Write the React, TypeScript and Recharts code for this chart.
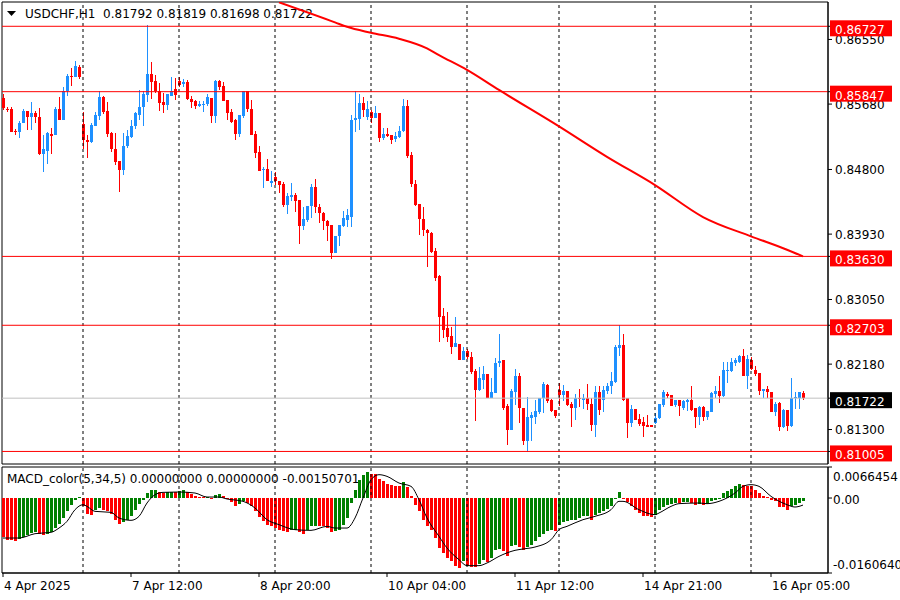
import React from "react";
import { ComposedChart, Bar, Line, XAxis, YAxis, ReferenceLine, ReferenceArea } from "recharts";

const FONT = "DejaVu Sans";
const BULL = "#1E90FF";
const BEAR = "#FF0000";
const HIST_UP = "#008000";
const HIST_DOWN = "#FF0000";

const symbol = "USDCHF,H1";
const macdTitle = "MACD_color(5,34,5) 0.00000000 0.00000000 -0.00150701";

// bar index axis (H1 bars)
const X_MIN = -0.25;
const X_MAX = 206.25;
const P_MIN = 0.80836;
const P_MAX = 0.87054;
const M_MIN = -0.016064;
const M_MAX = 0.0066454;

const daySeparators = [20, 44, 68, 92, 116, 139, 163, 187];
const timeTicks = [0, 32, 64, 96, 128, 160, 192];
const timeLabels = ["4 Apr 2025", "7 Apr 12:00", "8 Apr 20:00", "10 Apr 04:00", "11 Apr 12:00", "14 Apr 21:00", "16 Apr 05:00"];

const priceTicks = [0.8655, 0.8568, 0.848, 0.8393, 0.8305, 0.8218, 0.813];
const levels = [0.86727, 0.85847, 0.8363, 0.82703, 0.81005];
const lastPrice = 0.81722;

const macdTicks = [0.0066454, 0, -0.016064];
const macdTickLabels = ["0.0066454", "0.00", "-0.0160640"];

const open = [
  0.8576, 0.8562, 0.8561, 0.8532, 0.8531, 0.8543, 0.8559, 0.8551, 0.8556, 0.8551,
  0.8501, 0.8505, 0.8528, 0.8526, 0.8561, 0.8546, 0.8586, 0.8606, 0.8605, 0.8618,
  0.8541, 0.8520, 0.8517, 0.8539, 0.8552, 0.8578, 0.8559, 0.8529, 0.8508, 0.8491,
  0.8479, 0.8511, 0.8524, 0.8539, 0.8553, 0.8564, 0.8580, 0.8609, 0.8599, 0.8585,
  0.8571, 0.8567, 0.8579, 0.8588, 0.8599, 0.8595, 0.8598, 0.8575, 0.8572, 0.8566,
  0.8567, 0.8568, 0.8576, 0.8552, 0.8599, 0.8592, 0.8574, 0.8557, 0.8546, 0.8528,
  0.8552, 0.8585, 0.8562, 0.8528, 0.8503, 0.8479, 0.8481, 0.8462, 0.8470, 0.8464,
  0.8460, 0.8432, 0.8443, 0.8446, 0.8439, 0.8404, 0.8412, 0.8431, 0.8456, 0.8429,
  0.8422, 0.8411, 0.8405, 0.8367, 0.8390, 0.8404, 0.8412, 0.8416, 0.8546, 0.8548,
  0.8570, 0.8551, 0.8557, 0.8549, 0.8556, 0.8523, 0.8528, 0.8526, 0.8521, 0.8524,
  0.8532, 0.8566, 0.8500, 0.8461, 0.8434, 0.8414, 0.8399, 0.8394, 0.8370, 0.8336,
  0.8283, 0.8267, 0.8256, 0.8241, 0.8245, 0.8224, 0.8236, 0.8228, 0.8209, 0.8183,
  0.8197, 0.8205, 0.8172, 0.8179, 0.8219, 0.8223, 0.8161, 0.8129, 0.8181, 0.8202,
  0.8159, 0.8114, 0.8146, 0.8147, 0.8154, 0.8172, 0.8190, 0.8170, 0.8156, 0.8183,
  0.8176, 0.8182, 0.8164, 0.8159, 0.8173, 0.8170, 0.8173, 0.8165, 0.8136, 0.8181,
  0.8170, 0.8182, 0.8189, 0.8194, 0.8240, 0.8244, 0.8172, 0.8139, 0.8157, 0.8144,
  0.8140, 0.8136, 0.8136, 0.8139, 0.8145, 0.8163, 0.8178, 0.8176, 0.8163, 0.8170,
  0.8159, 0.8167, 0.8170, 0.8159, 0.8147, 0.8160, 0.8147, 0.8154, 0.8178, 0.8182,
  0.8175, 0.8209, 0.8209, 0.8220, 0.8221, 0.8229, 0.8202, 0.8223, 0.8210, 0.8206,
  0.8182, 0.8184, 0.8181, 0.8154, 0.8166, 0.8133, 0.8156, 0.8135, 0.8172, 0.8172,
  0.81792,
];

const high = [
  0.8582, 0.8564, 0.8564, 0.8534, 0.8545, 0.8561, 0.8559, 0.8571, 0.8559, 0.8563,
  0.8526, 0.8531, 0.8536, 0.8564, 0.8578, 0.8591, 0.8608, 0.8617, 0.8626, 0.8621,
  0.8557, 0.8526, 0.8542, 0.8557, 0.8586, 0.8579, 0.8571, 0.8530, 0.8529, 0.8491,
  0.8529, 0.8533, 0.8546, 0.8558, 0.8587, 0.8585, 0.8675, 0.8624, 0.8607, 0.8597,
  0.8583, 0.8582, 0.8605, 0.8603, 0.8605, 0.8602, 0.8601, 0.8579, 0.8573, 0.8572,
  0.8572, 0.8582, 0.8576, 0.8601, 0.8600, 0.8598, 0.8574, 0.8561, 0.8548, 0.8553,
  0.8585, 0.8585, 0.8574, 0.8532, 0.8511, 0.8484, 0.8494, 0.8478, 0.8476, 0.8464,
  0.8463, 0.8449, 0.8462, 0.8448, 0.8439, 0.8430, 0.8431, 0.8460, 0.8467, 0.8434,
  0.8423, 0.8412, 0.8405, 0.8390, 0.8405, 0.8424, 0.8427, 0.8553, 0.8585, 0.8581,
  0.8577, 0.8572, 0.8560, 0.8565, 0.8556, 0.8536, 0.8536, 0.8526, 0.8531, 0.8538,
  0.8575, 0.8574, 0.8504, 0.8466, 0.8434, 0.8429, 0.8400, 0.8396, 0.8374, 0.8338,
  0.8293, 0.8288, 0.8268, 0.8282, 0.8245, 0.8241, 0.8239, 0.8235, 0.8211, 0.8214,
  0.8215, 0.8205, 0.8199, 0.8226, 0.8258, 0.8224, 0.8165, 0.8184, 0.8212, 0.8206,
  0.8159, 0.8174, 0.8154, 0.8170, 0.8172, 0.8194, 0.8191, 0.8171, 0.8156, 0.8192,
  0.8190, 0.8182, 0.8167, 0.8178, 0.8185, 0.8178, 0.8191, 0.8173, 0.8188, 0.8188,
  0.8188, 0.8193, 0.8208, 0.8244, 0.8271, 0.8258, 0.8172, 0.8163, 0.8158, 0.8151,
  0.8147, 0.8150, 0.8136, 0.8152, 0.8165, 0.8183, 0.8181, 0.8176, 0.8170, 0.8170,
  0.8170, 0.8171, 0.8189, 0.8159, 0.8161, 0.8161, 0.8155, 0.8181, 0.8188, 0.8202,
  0.8221, 0.8221, 0.8226, 0.8226, 0.8230, 0.8239, 0.8230, 0.8227, 0.8215, 0.8206,
  0.8184, 0.8188, 0.8181, 0.8167, 0.8167, 0.8158, 0.8156, 0.8200, 0.8181, 0.8181,
  0.81819,
];

const low = [
  0.8560, 0.8557, 0.8530, 0.8526, 0.8523, 0.8542, 0.8533, 0.8533, 0.8542, 0.8499,
  0.8476, 0.8488, 0.8501, 0.8526, 0.8546, 0.8546, 0.8579, 0.8592, 0.8605, 0.8602,
  0.8508, 0.8496, 0.8515, 0.8538, 0.8547, 0.8554, 0.8524, 0.8504, 0.8486, 0.8450,
  0.8472, 0.8509, 0.8523, 0.8534, 0.8547, 0.8538, 0.8571, 0.8575, 0.8583, 0.8559,
  0.8556, 0.8560, 0.8579, 0.8573, 0.8591, 0.8591, 0.8573, 0.8563, 0.8562, 0.8564,
  0.8558, 0.8565, 0.8543, 0.8543, 0.8587, 0.8572, 0.8546, 0.8543, 0.8520, 0.8524,
  0.8549, 0.8558, 0.8526, 0.8495, 0.8478, 0.8455, 0.8464, 0.8457, 0.8459, 0.8449,
  0.8429, 0.8420, 0.8437, 0.8423, 0.8380, 0.8399, 0.8409, 0.8415, 0.8421, 0.8408,
  0.8399, 0.8384, 0.8359, 0.8367, 0.8377, 0.8403, 0.8402, 0.8402, 0.8531, 0.8533,
  0.8551, 0.8547, 0.8542, 0.8549, 0.8517, 0.8520, 0.8524, 0.8514, 0.8517, 0.8522,
  0.8531, 0.8495, 0.8456, 0.8431, 0.8392, 0.8390, 0.8349, 0.8367, 0.8330, 0.8248,
  0.8253, 0.8248, 0.8232, 0.8241, 0.8223, 0.8223, 0.8225, 0.8205, 0.8141, 0.8182,
  0.8184, 0.8172, 0.8172, 0.8179, 0.8214, 0.8156, 0.8109, 0.8129, 0.8163, 0.8139,
  0.8109, 0.8100, 0.8114, 0.8138, 0.8151, 0.8152, 0.8166, 0.8153, 0.8146, 0.8161,
  0.8169, 0.8162, 0.8134, 0.8143, 0.8160, 0.8157, 0.8156, 0.8128, 0.8120, 0.8150,
  0.8153, 0.8178, 0.8178, 0.8192, 0.8229, 0.8169, 0.8119, 0.8133, 0.8143, 0.8135,
  0.8120, 0.8134, 0.8133, 0.8137, 0.8144, 0.8160, 0.8173, 0.8162, 0.8160, 0.8148,
  0.8156, 0.8155, 0.8155, 0.8132, 0.8136, 0.8141, 0.8143, 0.8154, 0.8172, 0.8166,
  0.8174, 0.8192, 0.8208, 0.8215, 0.8220, 0.8202, 0.8184, 0.8210, 0.8202, 0.8176,
  0.8173, 0.8173, 0.8153, 0.8148, 0.8128, 0.8132, 0.8128, 0.8133, 0.8158, 0.8158,
  0.81698,
];

const close = [
  0.8563, 0.8561, 0.8531, 0.8531, 0.8542, 0.8559, 0.8551, 0.8556, 0.8550, 0.8501,
  0.8508, 0.8529, 0.8525, 0.8561, 0.8546, 0.8585, 0.8606, 0.8605, 0.8619, 0.8604,
  0.8520, 0.8517, 0.8540, 0.8553, 0.8577, 0.8558, 0.8528, 0.8508, 0.8490, 0.8479,
  0.8512, 0.8525, 0.8539, 0.8556, 0.8564, 0.8582, 0.8609, 0.8598, 0.8585, 0.8570,
  0.8567, 0.8582, 0.8585, 0.8580, 0.8594, 0.8598, 0.8575, 0.8571, 0.8566, 0.8568,
  0.8568, 0.8577, 0.8552, 0.8599, 0.8591, 0.8572, 0.8556, 0.8544, 0.8528, 0.8553,
  0.8585, 0.8561, 0.8526, 0.8502, 0.8478, 0.8480, 0.8464, 0.8464, 0.8464, 0.8459,
  0.8432, 0.8444, 0.8446, 0.8438, 0.8404, 0.8413, 0.8431, 0.8456, 0.8429, 0.8421,
  0.8410, 0.8404, 0.8367, 0.8390, 0.8405, 0.8415, 0.8419, 0.8547, 0.8549, 0.8570,
  0.8560, 0.8562, 0.8549, 0.8556, 0.8523, 0.8528, 0.8525, 0.8520, 0.8525, 0.8532,
  0.8566, 0.8498, 0.8461, 0.8432, 0.8413, 0.8398, 0.8394, 0.8369, 0.8334, 0.8282,
  0.8264, 0.8255, 0.8241, 0.8246, 0.8223, 0.8236, 0.8227, 0.8208, 0.8183, 0.8199,
  0.8205, 0.8172, 0.8180, 0.8219, 0.8222, 0.8159, 0.8129, 0.8182, 0.8202, 0.8159,
  0.8114, 0.8147, 0.8149, 0.8155, 0.8172, 0.8191, 0.8169, 0.8155, 0.8148, 0.8176,
  0.8182, 0.8163, 0.8159, 0.8173, 0.8171, 0.8173, 0.8164, 0.8136, 0.8181, 0.8156,
  0.8183, 0.8189, 0.8195, 0.8241, 0.8244, 0.8170, 0.8139, 0.8157, 0.8143, 0.8138,
  0.8135, 0.8134, 0.8134, 0.8146, 0.8164, 0.8180, 0.8175, 0.8162, 0.8170, 0.8161,
  0.8168, 0.8170, 0.8156, 0.8147, 0.8160, 0.8147, 0.8155, 0.8179, 0.8182, 0.8175,
  0.8210, 0.8210, 0.8221, 0.8223, 0.8229, 0.8202, 0.8225, 0.8211, 0.8205, 0.8182,
  0.8184, 0.8180, 0.8154, 0.8164, 0.8133, 0.8156, 0.8135, 0.8172, 0.8174, 0.8180,
  0.81722,
];

// red moving average, read at a few bars and joined
const maIdx = [69, 83, 86, 92, 99, 106, 109, 116, 124, 139, 151, 163, 175, 187, 196, 200];
const maVal = [0.8705, 0.8678, 0.8672, 0.8664, 0.8656, 0.8643, 0.8634, 0.8614, 0.8587, 0.8538, 0.8497, 0.8459, 0.8416, 0.839, 0.8372, 0.8363];

const macdHist = [
  -0.00835, -0.00893, -0.00907, -0.00928, -0.00878, -0.00835, -0.00785, -0.0075, -0.00735, -0.00764,
  -0.00793, -0.00764, -0.00735, -0.00643, -0.0055, -0.00428, -0.00286, -0.00143, -0.00036, 0.00021,
  -0.00164, -0.00336, -0.00357, -0.00264, -0.00214, -0.00264, -0.00286, -0.00343, -0.00464, -0.00557,
  -0.00521, -0.00478, -0.00393, -0.0025, -0.00129, -0.00036, 0.00107, 0.00164, 0.00179, 0.00136,
  0.00107, 0.00121, 0.00136, 0.00121, 0.00157, 0.00164, 0.00121, 0.00086, 0.0005, 0.00021,
  0.00014, 0.00021, -0.00021, 0.00071, 0.00093, 0.00036, -0.00021, -0.00086, -0.00164, -0.00129,
  -0.00071, -0.00107, -0.00179, -0.00286, -0.00407, -0.005, -0.00571, -0.00607, -0.00643, -0.00678,
  -0.00714, -0.00721, -0.00693, -0.00685, -0.00735, -0.00764, -0.00693, -0.00607, -0.00593, -0.006,
  -0.00607, -0.00643, -0.00735, -0.00714, -0.00678, -0.00571, -0.00428, -0.00107, 0.00179, 0.00378,
  0.005, 0.0055, 0.00521, 0.00514, 0.00407, 0.00357, 0.00307, 0.00278, 0.00264, 0.0025,
  0.00336, 0.00236, 0.00036, -0.00143, -0.00286, -0.00478, -0.00607, -0.00678, -0.00857, -0.01071,
  -0.01178, -0.01285, -0.01357, -0.01449, -0.01499, -0.01357, -0.01449, -0.01478, -0.01485, -0.01407,
  -0.01321, -0.01378, -0.01285, -0.01107, -0.01092, -0.01142, -0.0125, -0.01021, -0.01, -0.0105,
  -0.01107, -0.0105, -0.01, -0.00928, -0.00835, -0.00764, -0.00714, -0.00693, -0.00707, -0.00571,
  -0.00521, -0.005, -0.00478, -0.00464, -0.00428, -0.00393, -0.00378, -0.00464, -0.00357, -0.00321,
  -0.00286, -0.00236, -0.00179, -0.00021, 0.00129, -0.00021, -0.00093, -0.00164, -0.0025, -0.00321,
  -0.00378, -0.00393, -0.004, -0.00357, -0.00264, -0.00193, -0.00143, -0.00121, -0.00107, -0.00114,
  -0.00093, -0.00086, -0.00107, -0.00143, -0.00121, -0.00143, -0.00121, -0.00071, -0.00036, -0.00021,
  0.00107, 0.00143, 0.00193, 0.0025, 0.00307, 0.00286, 0.00264, 0.0025, 0.00179, 0.00107,
  0.0005, 0.00021, -0.0005, -0.00071, -0.00193, -0.002, -0.0025, -0.00179, -0.00143, -0.00107,
  -0.00071,
];

// black signal line, read at a few bars and joined
const sigIdx = [
  0, 4, 8, 12, 14, 16, 18, 20, 21, 23, 27, 29, 32, 34, 36, 38, 40, 44, 48, 51,
  54, 56, 60, 63, 66, 69, 73, 77, 81, 83, 86, 88, 90, 92, 94, 96, 99, 102, 104, 106,
  109, 111, 114, 116, 119, 121, 124, 128, 130, 133, 137, 139, 141, 145, 148, 152, 154, 155, 159, 163,
  164, 167, 169, 174, 176, 179, 183, 185, 187, 189, 192, 196, 198, 200,
];
const sigVal = [
  -0.00857, -0.00857, -0.00764, -0.00735, -0.00643, -0.005, -0.0025, -0.00143, -0.00179, -0.00286,
  -0.00307, -0.00428, -0.00478, -0.00393, -0.00107, 0.00071, 0.00121, 0.00129, 0.00107, 0.00021,
  0.00021, -0.00021, -0.00071, -0.00214, -0.00464, -0.00571, -0.00678, -0.00693, -0.00607, -0.00643,
  -0.00643, -0.00428, 0, 0.00393, 0.005, 0.00464, 0.00321, 0.0025, -0.00036, -0.00428,
  -0.00821, -0.01071, -0.01321, -0.01449, -0.01449, -0.01392, -0.0125, -0.01121, -0.01092, -0.0105,
  -0.00893, -0.00678, -0.00607, -0.00464, -0.00393, -0.0025, -0.00071, -0.00071, -0.0025, -0.00357,
  -0.00321, -0.00179, -0.00121, -0.00107, -0.00121, -0.00071, 0.00107, 0.0025, 0.00286, 0.0025,
  0.00036, -0.00143, -0.00193, -0.00151,
];

const rows = close.map((c, i) => ({
  i,
  o: open[i],
  h: high[i],
  l: low[i],
  c,
  hist: macdHist[i],
  histColor: i > 0 && macdHist[i] > macdHist[i - 1] ? HIST_UP : HIST_DOWN,
  ma: null as number | null,
  sig: null as number | null,
}));
maIdx.forEach((b, k) => (rows[b].ma = maVal[k]));
sigIdx.forEach((b, k) => (rows[b].sig = sigVal[k]));

const last = rows[rows.length - 1];
const header = `${symbol}  ${last.o.toFixed(5)} ${last.h.toFixed(5)} ${last.l.toFixed(5)} ${last.c.toFixed(5)}`;

const Candle = (props: any) => {
  const { x, y, width, height, payload } = props;
  if (!payload || height == null) return null;
  const { o, h, l, c } = payload;
  const cx = Math.round(x + width / 2);
  const k = h === l ? 0 : height / (h - l);
  const yo = y + (h - o) * k;
  const yc = y + (h - c) * k;
  const top = Math.round(Math.min(yo, yc));
  const bot = Math.round(Math.max(yo, yc));
  const wTop = Math.round(y);
  const wBot = Math.round(y + height);
  const color = c >= o ? BULL : BEAR;
  return (
    <g>
      <rect x={cx} y={wTop} width={1} height={Math.max(1, wBot - wTop)} fill={color} />
      <rect x={cx - 1} y={top} width={3} height={Math.max(1, bot - top)} fill={color} />
    </g>
  );
};

const HistBar = (props: any) => {
  const { x, y, width, height, payload } = props;
  if (!payload || height == null) return null;
  const cx = Math.round(x + width / 2);
  const y0 = Math.round(Math.min(y, y + height));
  const y1 = Math.round(Math.max(y, y + height));
  return <rect x={cx - 1} y={y0} width={3} height={Math.max(1, y1 - y0)} fill={payload.histColor} />;
};

const PriceTick = (props: any) => {
  const { x, y, payload } = props;
  const v = payload.value;
  const txt = v.toFixed(5);
  if (levels.includes(v) || v === lastPrice) {
    return (
      <g>
        <rect x={x - 5} y={y - 6} width={62} height={16} fill={v === lastPrice ? "#000000" : "#FF0000"} />
        <text x={x} y={y + 8} fill="#FFFFFF" fontSize={12} fontFamily={FONT}>
          {txt}
        </text>
      </g>
    );
  }
  return (
    <text x={x} y={y + 4.5} fill="#000000" fontSize={12} fontFamily={FONT}>
      {txt}
    </text>
  );
};

const MacdTick = (props: any) => {
  const { x, y, payload } = props;
  const k = macdTicks.indexOf(payload.value);
  const dy = k === 0 ? 14.4 : k === 1 ? 5.7 : -3.6;
  return (
    <text x={x - 2} y={y + dy} fill="#000000" fontSize={12} fontFamily={FONT}>
      {macdTickLabels[k]}
    </text>
  );
};

const TimeTick = (props: any) => {
  const { x, y, payload } = props;
  const k = timeTicks.indexOf(payload.value);
  return (
    <text x={x + 1} y={y + 11} fill="#000000" fontSize={12} fontFamily={FONT}>
      {timeLabels[k]}
    </text>
  );
};

export default function App() {
  return (
    <div style={{ position: "absolute", left: 0, top: 0, width: 900, height: 600, background: "#fff", overflow: "hidden" }}>
      <div style={{ position: "absolute", left: 0, top: 0 }}>
        <ComposedChart width={900} height={466} data={rows} margin={{ top: 2, right: 0, bottom: 2, left: 2 }}>
          <XAxis dataKey="i" type="number" domain={[X_MIN, X_MAX]} allowDataOverflow hide />
          <YAxis
            orientation="right"
            type="number"
            domain={[P_MIN, P_MAX]}
            allowDataOverflow
            width={72}
            ticks={[...priceTicks, ...levels, lastPrice]}
            interval={0}
            tickSize={4}
            tickMargin={3}
            tick={<PriceTick />}
            axisLine={{ stroke: "#000" }}
            tickLine={{ stroke: "#000" }}
          />
          {daySeparators.map((b) => (
            <ReferenceLine key={b} x={b} stroke="#000" strokeDasharray="3 3" />
          ))}
          {levels.map((p) => (
            <ReferenceLine key={p} y={p} stroke="#FF0000" />
          ))}
          <ReferenceLine y={lastPrice} stroke="#C0C0C0" />
          <ReferenceArea x1={X_MIN} x2={X_MAX} y1={P_MIN} y2={P_MAX} fill="none" stroke="#000" ifOverflow="visible" />
          <Bar dataKey={(d: any) => [d.l, d.h]} barSize={3} shape={<Candle />} isAnimationActive={false} />
          <Line dataKey="ma" type="monotone" stroke="#FF0000" strokeWidth={2} dot={false} connectNulls isAnimationActive={false} />
          <polygon points="7,11 16,11 11.5,16" fill="#000" />
          <text x={25} y={18} fontSize={12} fontFamily={FONT} fill="#000" xmlSpace="preserve">
            {header}
          </text>
        </ComposedChart>
      </div>
      <div style={{ position: "absolute", left: 0, top: 466 }}>
        <ComposedChart width={900} height={134} data={rows} margin={{ top: 1, right: 0, bottom: 0, left: 2 }}>
          <XAxis
            dataKey="i"
            type="number"
            domain={[X_MIN, X_MAX]}
            allowDataOverflow
            ticks={timeTicks}
            interval={0}
            height={27}
            tickSize={4}
            tickMargin={2}
            tick={<TimeTick />}
            axisLine={{ stroke: "#000" }}
            tickLine={{ stroke: "#000" }}
          />
          <YAxis
            orientation="right"
            type="number"
            domain={[M_MIN, M_MAX]}
            allowDataOverflow
            width={72}
            ticks={macdTicks}
            interval={0}
            tickSize={4}
            tickMargin={3}
            tick={<MacdTick />}
            axisLine={{ stroke: "#000" }}
            tickLine={{ stroke: "#000" }}
          />
          {daySeparators.map((b) => (
            <ReferenceLine key={b} x={b} stroke="#000" strokeDasharray="3 3" />
          ))}
          <ReferenceArea x1={X_MIN} x2={X_MAX} y1={M_MIN} y2={M_MAX} fill="none" stroke="#000" ifOverflow="visible" />
          <Bar dataKey="hist" barSize={3} shape={<HistBar />} isAnimationActive={false} />
          <Line dataKey="sig" type="monotone" stroke="#000" strokeWidth={1} dot={false} connectNulls isAnimationActive={false} />
          <text x={7} y={17} fontSize={12} fontFamily={FONT} fill="#000">
            {macdTitle}
          </text>
        </ComposedChart>
      </div>
    </div>
  );
}
